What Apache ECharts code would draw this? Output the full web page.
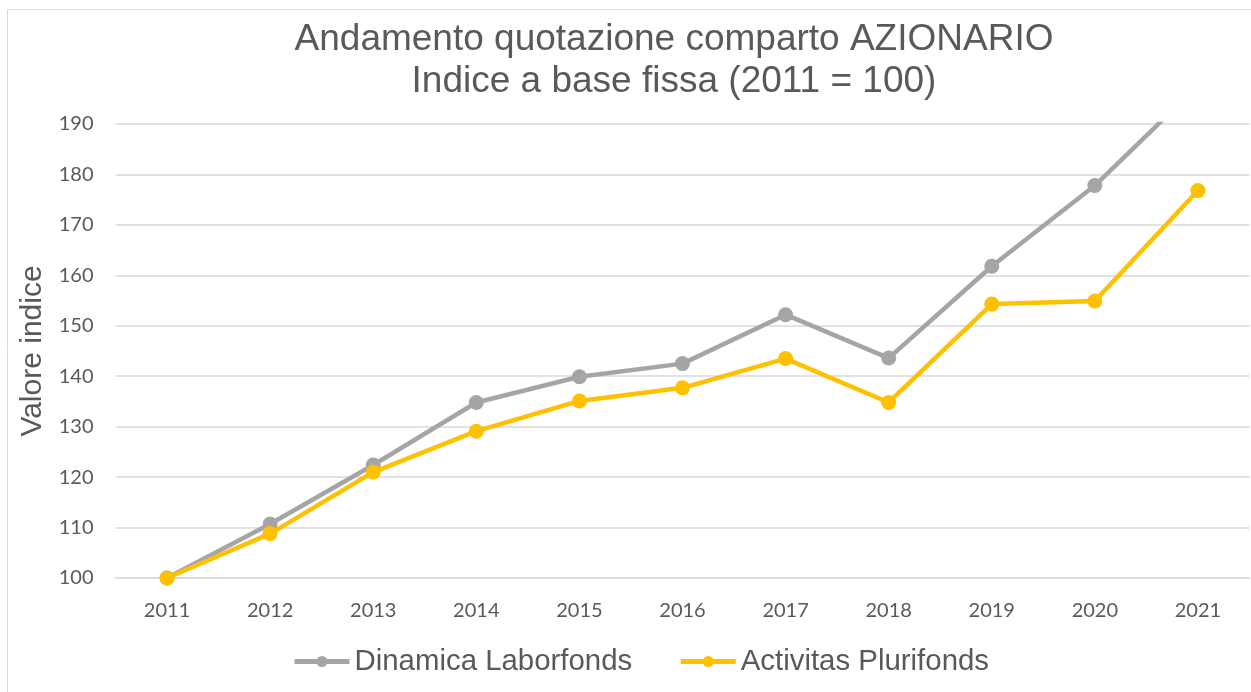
<!DOCTYPE html>
<html>
<head>
<meta charset="utf-8">
<title>Andamento quotazione comparto AZIONARIO</title>
<script src="https://cdn.jsdelivr.net/npm/echarts@6/dist/echarts.min.js"></script>
<style>
  html, body { margin: 0; padding: 0; background: #fff; }
</style>
</head>
<body>
<div id="main" style="width:1251px;height:692px;"></div>
<script type="text/javascript">
// anni (asse x)
var years = ['2011', '2012', '2013', '2014', '2015', '2016', '2017', '2018', '2019', '2020', '2021'];
// valori indice
var dinamica = [100, 110.7, 122.4, 134.8, 139.9, 142.5, 152.2, 143.6, 161.8, 177.8, 197.6];
var activitas = [100, 108.8, 121.0, 129.1, 135.1, 137.7, 143.5, 134.8, 154.3, 154.9, 176.8];
var seriesNames = ['Dinamica Laborfonds', 'Activitas Plurifonds'];

var myChart = echarts.init(document.getElementById('main'));

var option = {
  backgroundColor: '#fff',
  animation: false,
  title: {
    text: 'Andamento quotazione comparto AZIONARIO\nIndice a base fissa (2011 = 100)',
    left: 669,
    top: 14,
    textAlign: 'center',
    textStyle: {
      fontFamily: 'Liberation Sans',
      fontSize: 37,
      fontWeight: 'normal',
      color: '#595959',
      lineHeight: 42
    }
  },
  graphic: [{
    type: 'rect',
    silent: true,
    shape: { x: 7.5, y: 9.5, width: 1300, height: 800 },
    style: { fill: 'none', stroke: '#d9d9d9', lineWidth: 1 }
  }],
  legend: {
    bottom: 11,
    left: 287,
    itemWidth: 55,
    itemHeight: 14,
    itemGap: 46,
    lineStyle: { width: 5 },
    textStyle: {
      fontFamily: 'Liberation Sans',
      fontSize: 29.4,
      color: '#595959'
    },
    data: seriesNames
  },
  grid: {
    left: 115.5,
    right: 1.5,
    top: 124,
    bottom: 114,
    containLabel: false
  },
  xAxis: {
    type: 'category',
    data: years,
    boundaryGap: true,
    axisLine: { lineStyle: { color: '#d9d9d9', width: 1.5 } },
    axisTick: { show: false },
    axisLabel: {
      fontFamily: 'Lato',
      fontSize: 20,
      color: '#595959',
      margin: 23
    }
  },
  yAxis: {
    type: 'value',
    min: 100,
    max: 190,
    interval: 10,
    name: 'Valore indice',
    nameLocation: 'middle',
    nameGap: 66,
    nameTextStyle: {
      fontFamily: 'Liberation Sans',
      fontSize: 30,
      color: '#595959'
    },
    axisLine: { show: false },
    axisTick: { show: false },
    axisLabel: {
      fontFamily: 'Lato',
      fontSize: 20,
      color: '#595959',
      margin: 22
    },
    splitLine: { lineStyle: { color: '#d9d9d9', width: 1.5 } }
  },
  series: [{
    name: seriesNames[0],
    type: 'line',
    data: dinamica,
    clip: true,
    symbol: 'circle',
    symbolSize: 15,
    color: '#A5A5A5',
    lineStyle: { width: 4.5, color: '#A5A5A5' },
    itemStyle: { color: '#A5A5A5' }
  }, {
    name: seriesNames[1],
    type: 'line',
    data: activitas,
    clip: true,
    symbol: 'circle',
    symbolSize: 15,
    color: '#FFC000',
    lineStyle: { width: 4.5, color: '#FFC000' },
    itemStyle: { color: '#FFC000' }
  }]
};

myChart.setOption(option);
</script>
</body>
</html>
